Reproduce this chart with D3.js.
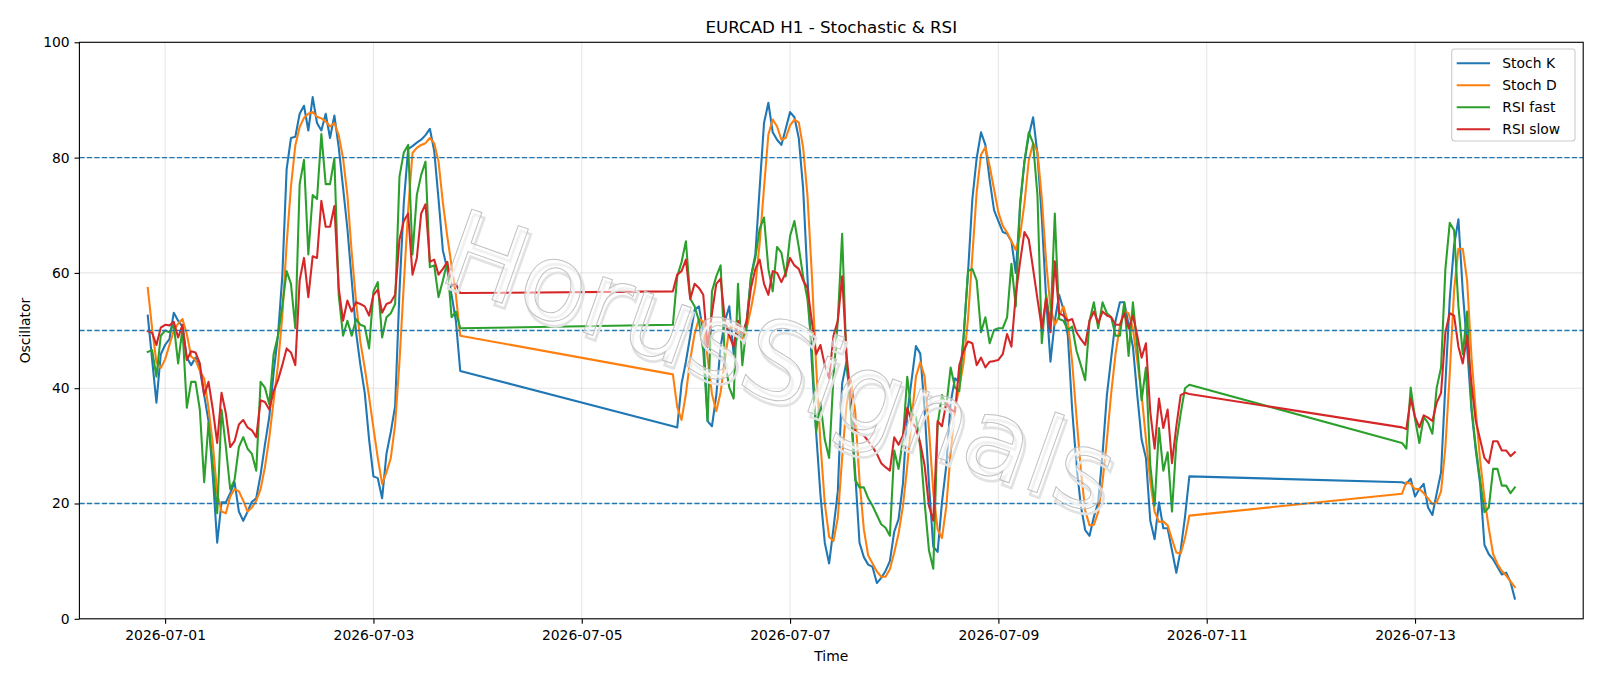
<!DOCTYPE html>
<html><head><meta charset="utf-8">
<script src="https://cdn.jsdelivr.net/npm/d3@7"></script>
<style>body{margin:0;background:#fff}svg{display:block}text{font-family:"DejaVu Sans",sans-serif}</style>
</head><body><svg id="c" width="1600" height="686"></svg>
<script>
// hourly sessions (UTC start, number of bars)
const segmentStarts = ["2026-06-30T20:00:00Z", "2026-07-05T21:00:00Z", "2026-07-12T21:00:00Z"];
const segmentLengths = [73, 120, 27];

const stochK = [
52.6,45.0,37.5,45.9,47.5,48.5,53.1,51.7,50.7,45.3,44.0,45.3,43.3,38.8,34.3,24.7,13.2,20.2,20.2,21.8,
23.7,18.6,17.0,18.6,20.3,20.9,25.0,30.2,35.0,42.7,49.1,59.4,78.0,83.4,83.6,87.6,89.0,84.7,90.5,86.0,
84.7,87.6,83.4,87.3,81.8,74.8,67.7,58.7,49.7,44.0,39.2,31.1,24.7,24.4,20.9,28.6,32.4,36.9,56.8,72.2,
81.5,82.0,82.6,83.1,83.9,85.0,81.2,72.8,63.9,60.7,56.2,51.7,43.0,
33.4,33.2,40.8,44.6,49.1,53.6,54.2,49.7,34.3,33.4,38.8,47.2,51.7,54.2,45.9,49.7,49.1,51.7,59.4,63.2,
74.8,86.0,89.5,84.4,83.1,82.2,85.0,87.9,87.0,83.4,74.8,59.4,44.6,32.4,21.5,13.2,9.6,15.7,22.1,40.8,
44.6,36.3,25.4,13.2,10.7,9.4,9.0,6.2,7.1,8.3,10.0,15.1,17.3,23.4,35.6,41.4,47.3,46.0,36.3,23.4,
12.5,11.6,20.2,26.6,37.5,41.7,41.1,49.1,60.0,72.8,79.9,84.4,82.2,76.1,70.9,69.0,67.1,66.8,65.5,60.0,
71.6,79.3,83.8,87.0,80.6,69.6,55.5,44.6,51.7,56.2,53.6,49.1,36.3,26.6,19.6,15.4,14.4,17.7,20.2,28.6,
38.8,45.3,51.7,54.9,54.9,51.0,47.2,38.8,31.1,27.9,17.0,13.8,20.2,15.7,15.7,11.9,8.0,11.9,17.7,24.7,
23.7,23.4,24.3,21.2,22.5,23.4,19.3,18.0,21.8,25.4,40.8,55.5,64.8,69.3,56.8,47.2,36.3,29.2,23.4,12.8,
11.2,10.3,9.0,7.7,8.0,6.4,3.5];

const stochD = [
57.4,50.4,44.5,43.5,45.0,47.5,50.0,51.2,52.0,49.4,45.5,44.9,43.0,41.7,36.6,30.2,21.8,18.6,18.3,21.2,
22.5,22.1,20.5,18.6,19.3,20.5,22.5,26.3,31.4,37.8,44.0,52.5,65.0,75.0,82.1,85.3,86.9,87.6,87.9,87.1,
86.8,86.3,85.4,86.0,83.9,79.9,73.5,63.5,55.0,48.0,43.5,38.5,33.1,27.9,23.4,25.4,27.9,33.7,44.6,58.0,
70.9,80.8,81.7,82.2,82.5,83.4,82.5,79.3,72.2,66.4,61.3,56.2,49.1,
42.4,36.7,34.5,39.0,45.0,49.4,52.1,51.5,45.3,39.0,36.0,39.3,45.0,50.4,50.8,49.8,48.5,50.4,53.8,57.8,
65.2,74.8,84.0,86.6,85.4,83.1,83.4,85.6,86.6,86.1,81.8,73.5,60.0,44.0,30.5,20.0,14.2,13.5,17.5,28.0,
37.0,41.5,36.0,24.0,15.5,11.0,9.6,8.2,7.3,7.3,8.6,11.5,14.8,19.5,26.5,34.5,42.0,44.5,42.0,33.0,
22.0,15.5,14.0,19.5,28.8,36.5,40.1,44.5,52.0,63.0,74.0,80.5,81.8,78.5,74.5,70.5,68.2,67.0,65.5,64.0,
66.5,72.0,79.5,82.5,81.0,73.0,62.0,54.0,51.0,52.5,54.2,51.5,44.5,35.0,25.8,18.8,16.2,16.3,18.5,23.8,
31.0,39.2,46.0,50.8,53.5,53.0,50.3,44.8,38.9,31.2,23.8,18.6,16.8,16.9,16.2,13.8,11.5,11.3,14.0,17.9,
21.7,23.7,23.4,22.5,22.5,21.8,20.9,19.9,20.2,22.1,29.8,42.5,57.0,64.2,64.2,58.7,45.5,36.0,27.5,21.0,
15.7,11.2,9.5,8.3,7.5,6.5,5.5];

const rsiFast = [
46.3,46.6,42.0,49.1,50.0,49.7,51.0,44.3,50.4,36.6,41.1,41.1,36.3,23.7,34.0,26.6,18.3,36.3,29.8,22.5,
24.1,29.8,31.5,29.5,28.6,25.7,41.1,40.1,37.2,45.9,49.1,54.2,60.3,58.1,50.4,75.4,79.6,63.2,73.5,72.8,
84.1,75.4,75.4,79.9,56.2,49.1,51.7,49.1,52.0,51.0,50.7,46.9,56.8,58.4,48.8,52.3,53.0,54.6,76.7,80.9,
82.2,63.2,73.5,77.0,79.3,61.0,61.3,55.8,58.7,61.9,52.3,53.3,50.4,
51.0,59.4,61.9,65.5,55.5,54.2,51.7,46.5,34.3,56.8,59.4,61.3,44.6,40.1,38.2,58.1,44.0,51.0,59.4,62.6,
67.7,69.6,60.7,56.8,64.5,63.5,59.4,66.4,69.0,64.5,59.4,55.5,47.2,32.4,37.5,31.1,27.9,42.0,51.7,66.8,
44.6,36.3,24.1,22.8,22.8,20.9,19.6,18.0,16.4,15.8,14.4,29.2,26.0,31.1,42.0,35.6,35.0,29.8,20.2,11.9,
8.7,33.7,38.8,36.9,43.6,40.1,39.5,49.1,60.3,60.7,58.7,49.7,52.3,47.8,50.1,50.4,50.4,52.3,61.6,54.2,
72.2,79.3,84.4,82.5,73.5,47.8,56.2,51.0,70.3,52.0,51.7,50.1,50.7,46.5,44.0,41.4,51.7,54.9,50.4,54.9,
53.0,52.3,49.1,49.1,54.9,45.6,54.9,47.2,37.9,43.6,26.6,19.6,33.1,25.7,28.9,18.6,30.5,35.6,40.0,40.6,
30.5,29.5,40.1,34.7,30.5,35.0,34.0,32.1,40.1,43.6,60.7,68.7,67.4,54.2,45.9,53.3,36.9,29.8,24.1,18.5,
19.3,26.0,26.0,23.1,23.1,21.8,22.8];

const rsiSlow = [
49.9,49.6,47.5,50.5,51.0,50.9,51.5,48.8,51.0,44.9,46.4,46.2,44.3,38.8,41.1,36.3,30.5,39.2,35.6,29.8,
30.8,33.7,34.5,33.2,32.7,31.5,37.9,37.6,36.3,39.5,41.4,44.0,46.9,46.2,44.0,58.7,62.6,55.8,62.9,62.6,
72.5,68.0,68.0,71.6,57.4,51.7,55.2,53.3,54.9,54.6,54.2,52.6,56.2,57.1,53.1,54.6,54.9,56.2,65.8,69.0,
70.3,59.7,62.6,70.3,71.9,61.9,62.3,59.7,60.7,61.9,57.8,58.1,56.5,
56.8,59.7,60.3,62.3,55.5,58.1,57.4,56.2,47.2,53.0,58.1,59.0,51.7,49.1,47.2,51.7,49.1,51.7,57.4,60.7,
62.3,58.1,56.2,60.3,60.0,58.4,60.0,62.6,61.3,60.7,58.7,57.4,51.7,45.9,47.5,44.0,41.7,49.1,51.7,59.4,
45.9,38.2,32.4,32.1,31.8,30.8,29.8,28.6,27.0,26.3,25.7,31.5,30.2,31.8,36.6,34.3,33.1,30.5,26.6,19.6,
17.0,34.3,33.4,37.5,36.3,35.9,44.0,46.5,48.1,47.8,44.0,45.3,43.6,44.6,44.7,44.9,45.9,49.4,47.2,56.2,
61.9,67.1,65.8,60.7,55.5,50.4,55.5,49.7,62.0,53.0,52.6,51.7,52.0,49.7,48.5,47.5,51.7,53.3,51.3,53.3,
52.6,52.3,51.0,51.0,53.0,50.4,52.6,49.1,45.3,47.8,35.9,29.5,38.2,33.1,36.3,27.0,33.4,38.8,39.2,39.0,
33.2,32.9,38.2,35.0,33.2,35.3,34.9,34.3,37.5,39.2,49.7,53.0,52.6,47.2,44.3,49.1,40.8,34.3,31.1,27.9,
27.0,30.8,30.8,29.2,29.2,28.2,28.9];

const seriesNames = ["Stoch K", "Stoch D", "RSI fast", "RSI slow"];
const seriesColors = ["#1f77b4", "#ff7f0e", "#2ca02c", "#d62728"];
const levelLines = [80, 50, 20];
const yTicks = [0, 20, 40, 60, 80, 100];
const titleText = "EURCAD H1 - Stochastic & RSI";
const xLabel = "Time", yLabel = "Oscillator";
const watermark = "HorusSignals";

// ---------- build timestamps ----------
const times = [];
segmentStarts.forEach((s, i) => {
  const t0 = new Date(s);
  for (let h = 0; h < segmentLengths[i]; h++) times.push(d3.utcHour.offset(t0, h));
});
const allSeries = [stochK, stochD, rsiFast, rsiSlow];

// ---------- layout ----------
const L = 79.4, R = 1583.2, T = 42.3, B = 618.8;
const svg = d3.select("#c");
const tMin = times[0], tMax = times[times.length - 1];
const pad = (tMax - tMin) * 0.05;
const x = d3.scaleUtc().domain([new Date(+tMin - pad), new Date(+tMax + pad)]).range([L, R]);
const y = d3.scaleLinear().domain([0, 100]).range([B, T]);

const xTicks = d3.utcDay.every(2).range(d3.utcDay.ceil(x.domain()[0]), x.domain()[1]);
const fmt = d3.utcFormat("%Y-%m-%d");

// grid
const grid = svg.append("g");
grid.selectAll(".gx").data(xTicks).join("line")
  .attr("x1", d => x(d)).attr("x2", d => x(d)).attr("y1", T).attr("y2", B)
  .attr("stroke", "#b0b0b0").attr("stroke-opacity", 0.3).attr("stroke-width", 1.1);
grid.selectAll(".gy").data(yTicks).join("line")
  .attr("x1", L).attr("x2", R).attr("y1", d => y(d)).attr("y2", d => y(d))
  .attr("stroke", "#b0b0b0").attr("stroke-opacity", 0.3).attr("stroke-width", 1.1);

// series
svg.append("clipPath").attr("id", "clp").append("rect")
  .attr("x", L).attr("y", T).attr("width", R - L).attr("height", B - T);
const plot = svg.append("g").attr("clip-path", "url(#clp)");
const line = d3.line().x((d, i) => x(times[i])).y(d => y(d));
allSeries.forEach((s, i) => {
  plot.append("path").attr("d", line(s)).attr("fill", "none")
    .attr("stroke", seriesColors[i]).attr("stroke-width", 2.08)
    .attr("stroke-linejoin", "round").attr("stroke-linecap", "square");
});

// level lines
plot.selectAll(".lvl").data(levelLines).join("line")
  .attr("x1", L).attr("x2", R).attr("y1", d => y(d)).attr("y2", d => y(d))
  .attr("stroke", "#1f77b4").attr("stroke-width", 1.4).attr("stroke-dasharray", "5.2,2.3");

// watermark
const wm = svg.append("g").attr("transform", "translate(780,362) rotate(19.5)");
wm.append("text").text(watermark).attr("text-anchor", "middle").attr("dominant-baseline", "central")
  .attr("x", 4).attr("y", 4).style("font-size", "108px").attr("fill", "none")
  .attr("stroke", "#e2e2e2").attr("stroke-width", 2.6);
wm.append("text").text(watermark).attr("text-anchor", "middle").attr("dominant-baseline", "central")
  .style("font-size", "108px").attr("fill", "#ffffff").attr("fill-opacity", 0.5)
  .attr("stroke", "#c2c2c2").attr("stroke-width", 1.0);

// axes
const xAxis = d3.axisBottom(x).tickValues(xTicks).tickFormat(fmt).tickSize(4.86).tickPadding(6.2);
const yAxis = d3.axisLeft(y).tickValues(yTicks).tickSize(4.86).tickPadding(4.86);
const gx = svg.append("g").attr("transform", `translate(0,${B})`).call(xAxis);
const gy = svg.append("g").attr("transform", `translate(${L},0)`).call(yAxis);
[gx, gy].forEach(g => {
  g.select(".domain").remove();
  g.selectAll(".tick line").attr("stroke", "#000").attr("stroke-width", 1.1);
  g.selectAll(".tick text").attr("fill", "#000").style("font-size", "13.9px").style("font-family", "DejaVu Sans");
});
svg.append("rect").attr("x", L).attr("y", T).attr("width", R - L).attr("height", B - T)
  .attr("fill", "none").attr("stroke", "#000").attr("stroke-width", 1.1);

// labels
svg.append("text").text(titleText).attr("x", (L + R) / 2).attr("y", 32.5)
  .attr("text-anchor", "middle").style("font-size", "16.7px");
svg.append("text").text(xLabel).attr("x", (L + R) / 2).attr("y", 661)
  .attr("text-anchor", "middle").style("font-size", "13.9px");
svg.append("text").text(yLabel).attr("transform", `translate(30,${(T + B) / 2}) rotate(-90)`)
  .attr("text-anchor", "middle").style("font-size", "13.9px");

// legend
const lg = svg.append("g");
lg.append("rect").attr("x", 1451.7).attr("y", 49).attr("width", 123.3).attr("height", 92)
  .attr("rx", 3).attr("fill", "#fff").attr("fill-opacity", 0.8).attr("stroke", "#cccccc").attr("stroke-width", 1.1);
seriesNames.forEach((n, i) => {
  const yy = 63.3 + i * 22;
  lg.append("line").attr("x1", 1456.7).attr("x2", 1490).attr("y1", yy).attr("y2", yy)
    .attr("stroke", seriesColors[i]).attr("stroke-width", 2.08);
  lg.append("text").text(n).attr("x", 1502.3).attr("y", yy + 5).style("font-size", "13.9px");
});
</script></body></html>
